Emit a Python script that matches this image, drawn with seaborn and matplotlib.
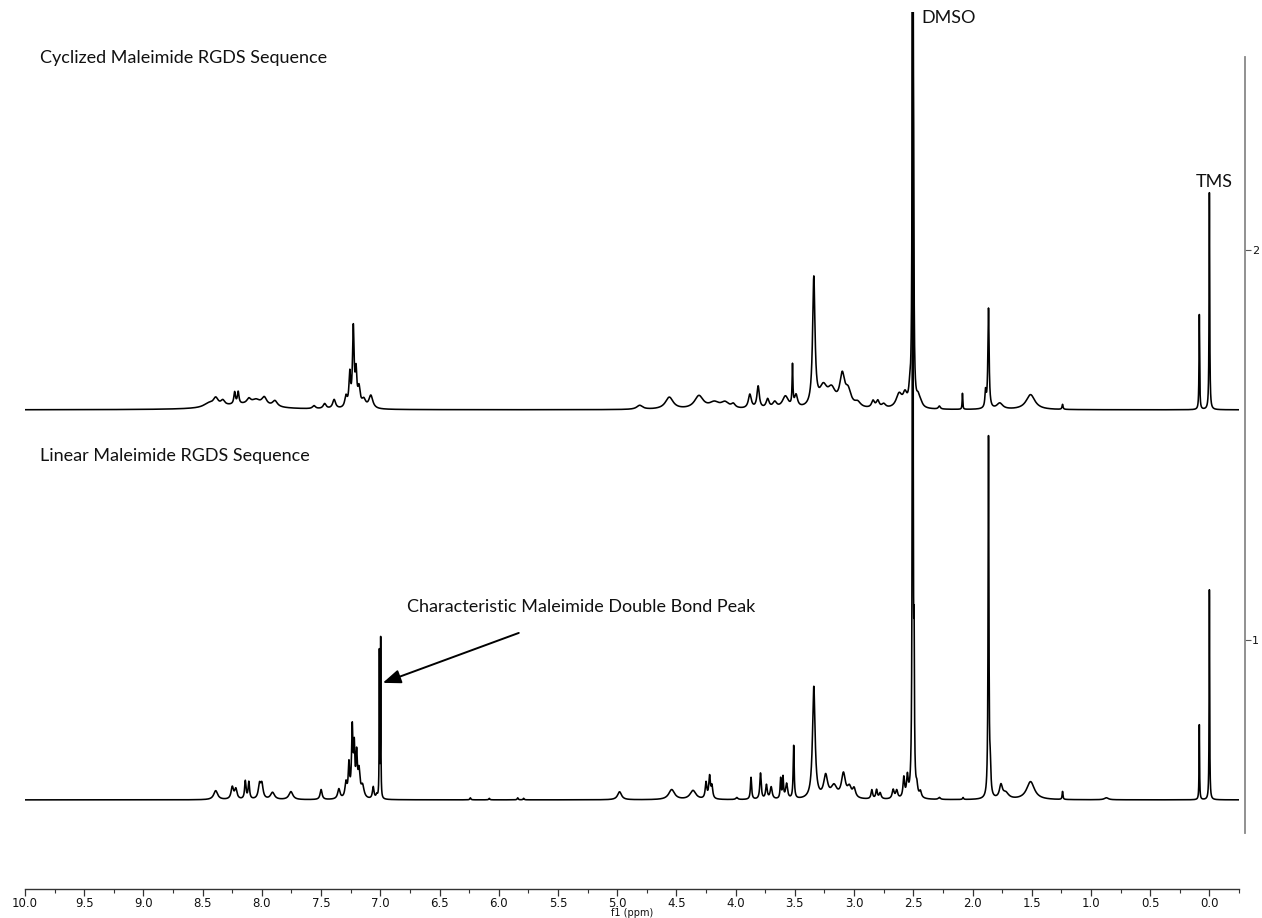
import numpy as np
import pandas as pd
import matplotlib
matplotlib.use("Agg")
import matplotlib.pyplot as plt
from matplotlib.ticker import MultipleLocator, FormatStrFormatter
import seaborn as sns

# ---- peak tables (shift in ppm, intensity, half width in ppm) ----
# Cyclized maleimide RGDS sequence
cyc_shift = [8.45, 8.39, 8.33, 8.23, 8.20, 8.11, 8.05, 7.98, 7.89, 8.15,
             7.56, 7.47, 7.39, 7.29, 7.258, 7.228, 7.205, 7.18, 7.14, 7.08,
             4.81, 4.56, 4.31, 4.18, 4.09, 4.02, 3.88, 3.81, 3.73, 3.67,
             3.58, 3.52, 3.49, 3.34, 3.26, 3.19, 3.10, 3.05, 2.97, 2.84,
             2.80, 2.75, 2.62, 2.57, 2.53, 2.505, 2.497, 2.46, 2.44, 2.28,
             2.085, 1.89, 1.865, 1.77, 1.51, 1.24, 0.085, 0.0]
cyc_int = [4, 8, 5, 12, 12, 5, 5, 8, 6, 5,
           3, 5, 9, 11, 32, 78, 32, 18, 8, 13,
           4, 12, 13, 6, 6, 4, 14, 22, 9, 6,
           12, 40, 12, 128, 19, 16, 30, 15, 5, 7,
           7, 4, 14, 12, 12, 1200, 150, 8, 5, 3,
           16, 16, 100, 6, 15, 5, 95, 217]
cyc_width = [0.05, 0.025, 0.02, 0.008, 0.008, 0.02, 0.04, 0.025, 0.025, 0.25,
             0.015, 0.015, 0.015, 0.012, 0.008, 0.008, 0.008, 0.012, 0.02, 0.02,
             0.03, 0.04, 0.045, 0.05, 0.04, 0.02, 0.015, 0.012, 0.015, 0.02,
             0.03, 0.004, 0.015, 0.012, 0.04, 0.04, 0.025, 0.03, 0.03, 0.015,
             0.015, 0.02, 0.03, 0.02, 0.01, 0.003, 0.003, 0.015, 0.02, 0.01,
             0.003, 0.006, 0.006, 0.03, 0.045, 0.005, 0.003, 0.003]

# Linear maleimide RGDS sequence
lin_shift = [8.39, 8.25, 8.22, 8.14, 8.11, 8.02, 8.00, 7.91, 7.755, 7.50,
             7.35, 7.29, 7.265, 7.237, 7.22, 7.20, 7.18, 7.15, 7.06, 7.03,
             7.008, 6.997, 6.24, 6.08, 5.84, 5.79, 4.98, 4.54, 4.36, 4.25,
             4.22, 4.20, 3.99, 3.87, 3.79, 3.74, 3.70, 3.62, 3.60, 3.57,
             3.51, 3.34, 3.24, 3.17, 3.09, 3.04, 3.00, 2.85, 2.81, 2.78,
             2.67, 2.64, 2.58, 2.55, 2.505, 2.493, 2.47, 2.44, 2.28, 2.08,
             1.865, 1.85, 1.76, 1.72, 1.51, 1.24, 0.87, 0.085, 0.0]
lin_int = [9, 12, 10, 18, 17, 14, 14, 7, 8, 10,
           10, 15, 32, 68, 45, 40, 25, 12, 12, 4,
           145, 158, 2, 1.5, 2, 1.5, 8, 10, 9, 16,
           22, 12, 2, 22, 26, 14, 12, 20, 21, 15,
           53, 112, 22, 12, 24, 10, 9, 9, 9, 6,
           9, 8, 20, 20, 1200, 120, 9, 6, 2, 2,
           360, 25, 13, 6, 18, 8, 2, 75, 210]
lin_width = [0.02, 0.012, 0.012, 0.007, 0.007, 0.012, 0.012, 0.02, 0.02, 0.01,
             0.012, 0.01, 0.007, 0.007, 0.006, 0.007, 0.01, 0.015, 0.008, 0.008,
             0.002, 0.002, 0.005, 0.005, 0.005, 0.005, 0.02, 0.03, 0.03, 0.008,
             0.008, 0.008, 0.01, 0.006, 0.007, 0.008, 0.01, 0.005, 0.005, 0.01,
             0.005, 0.013, 0.02, 0.03, 0.02, 0.02, 0.015, 0.008, 0.008, 0.01,
             0.01, 0.01, 0.008, 0.008, 0.003, 0.003, 0.008, 0.01, 0.01, 0.005,
             0.004, 0.006, 0.015, 0.03, 0.04, 0.004, 0.02, 0.0025, 0.0025]

spectrum_names = ["Cyclized Maleimide RGDS Sequence", "Linear Maleimide RGDS Sequence"]
spectrum_offsets = [1.59, 0.59]
intensity_scale = 1 / 390.0

x_ticks = [10.0, 9.5, 9.0, 8.5, 8.0, 7.5, 7.0, 6.5, 6.0, 5.5, 5.0,
           4.5, 4.0, 3.5, 3.0, 2.5, 2.0, 1.5, 1.0, 0.5, 0.0]
y_ticks = [1, 2]


def lorentz_sum(ppm, shifts, ints, widths):
    y = np.zeros_like(ppm)
    for c, h, w in zip(shifts, ints, widths):
        y += h * w**2 / ((ppm - c) ** 2 + w**2)
    return y


ppm = np.arange(10.0, -0.25, -0.0005)
frames = []
for name, off, (s, i, w) in zip(spectrum_names, spectrum_offsets,
                                [(cyc_shift, cyc_int, cyc_width),
                                 (lin_shift, lin_int, lin_width)]):
    frames.append(pd.DataFrame({
        "ppm": ppm,
        "intensity": off + intensity_scale * lorentz_sum(ppm, s, i, w),
        "spectrum": name,
    }))
df = pd.concat(frames, ignore_index=True)

sns.set_theme(style="white")
plt.rcParams["font.family"] = ["DejaVu Sans"]

W, H = 1262, 918
fig = plt.figure(figsize=(W / 100, H / 100), dpi=100)
ax = fig.add_axes([25 / W, (H - 889) / H, (1239 - 25) / W, (889 - 12) / H])

sns.lineplot(data=df, x="ppm", y="intensity", units="spectrum", estimator=None,
             sort=False, color="black", linewidth=1.15, ax=ax, legend=False)

ax.set_xlim(10.0, -0.25)
ax.set_ylim(0.3615, 2.61)

# axes decoration
for side in ("top", "left"):
    ax.spines[side].set_visible(False)
ax.spines["bottom"].set_color("#333333")
ax.spines["bottom"].set_linewidth(1.0)
ax.spines["right"].set_color("#888888")
ax.spines["right"].set_linewidth(1.3)
ax.spines["right"].set_position(("outward", 4))
ax.spines["right"].set_bounds(0.505, 2.495)

ax.xaxis.set_major_locator(MultipleLocator(0.5))
ax.xaxis.set_minor_locator(MultipleLocator(0.25))
ax.xaxis.set_major_formatter(FormatStrFormatter("%.1f"))
ax.set_xticks(x_ticks)
ax.tick_params(axis="x", which="major", direction="out", length=5, width=0.9,
               color="#333333", labelsize=8.5, pad=0.8, bottom=True,
               labelcolor="#111111")
ax.tick_params(axis="x", which="minor", direction="out", length=3, width=0.8,
               color="#333333", bottom=True)
ax.set_xlabel("f1 (ppm)", fontsize=7, color="#111111")
ax.xaxis.set_label_coords(0.5, -0.0215)

ax.yaxis.tick_right()
ax.set_yticks(y_ticks)
ax.set_yticklabels([str(t) for t in y_ticks])
ax.tick_params(axis="y", which="major", direction="out", length=4, width=0.8,
               color="#555555", labelsize=8, pad=1.5, right=True, left=False,
               labelcolor="#111111")
ax.set_ylabel("")
ax.grid(False)

label_font = dict(family=["Lato", "DejaVu Sans"], fontsize=13, color="#111111")
ax.text(9.873, 2.492, spectrum_names[0], va="center", ha="left", **label_font)
ax.text(9.873, 1.472, spectrum_names[1], va="center", ha="left", **label_font)
ax.text(2.43, 2.595, "DMSO", va="center", ha="left", **label_font)
ax.text(0.118, 2.174, "TMS", va="center", ha="left", **label_font)
ax.text(6.776, 1.085, "Characteristic Maleimide Double Bond Peak",
        va="center", ha="left", **label_font)
ax.annotate("", xy=(6.979, 0.89), xytext=(5.831, 1.018),
            arrowprops=dict(arrowstyle="-|>,head_length=0.9,head_width=0.35",
                            color="black", lw=1.4, shrinkA=0, shrinkB=0))

fig.savefig("out.png", dpi=100)
